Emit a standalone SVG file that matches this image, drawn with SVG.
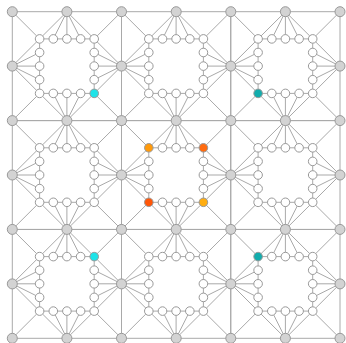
<svg xmlns="http://www.w3.org/2000/svg" xmlns:xlink="http://www.w3.org/1999/xlink" width="346" height="343" viewBox="0 0 346 343">
<style>
.e line{stroke:#a9a9a9;stroke-width:1}
.s{fill:#fff;stroke:#999;stroke-width:1}
.b{fill:#d3d3d3;stroke:#999;stroke-width:1}
.cy{fill:#1ee3e8}
.te{fill:#12adad}
.o1{fill:#ff9a0c}
.o2{fill:#ff6c10}
.o3{fill:#ff5608}
.o4{fill:#ffad10}
</style>
<defs>
<g id="blk" class="e">
<line x1="0" y1="0" x2="109.2" y2="0"/>
<line x1="109.2" y1="0" x2="109.2" y2="108.9"/>
<line x1="109.2" y1="108.9" x2="0" y2="108.9"/>
<line x1="0" y1="108.9" x2="0" y2="0"/>
<line x1="0" y1="0" x2="27.3" y2="27.2"/>
<line x1="109.2" y1="0" x2="81.9" y2="27.2"/>
<line x1="0" y1="108.9" x2="27.3" y2="81.7"/>
<line x1="109.2" y1="108.9" x2="81.9" y2="81.7"/>
<line x1="54.6" y1="0" x2="27.3" y2="27.2"/>
<line x1="54.6" y1="0" x2="41" y2="27.2"/>
<line x1="54.6" y1="0" x2="54.6" y2="27.2"/>
<line x1="54.6" y1="0" x2="68.3" y2="27.2"/>
<line x1="54.6" y1="0" x2="81.9" y2="27.2"/>
<line x1="54.6" y1="108.9" x2="27.3" y2="81.7"/>
<line x1="54.6" y1="108.9" x2="41" y2="81.7"/>
<line x1="54.6" y1="108.9" x2="54.6" y2="81.7"/>
<line x1="54.6" y1="108.9" x2="68.3" y2="81.7"/>
<line x1="54.6" y1="108.9" x2="81.9" y2="81.7"/>
<line x1="0" y1="54.4" x2="27.3" y2="27.2"/>
<line x1="0" y1="54.4" x2="27.3" y2="40.8"/>
<line x1="0" y1="54.4" x2="27.3" y2="54.4"/>
<line x1="0" y1="54.4" x2="27.3" y2="68"/>
<line x1="0" y1="54.4" x2="27.3" y2="81.7"/>
<line x1="109.2" y1="54.4" x2="81.9" y2="27.2"/>
<line x1="109.2" y1="54.4" x2="81.9" y2="40.8"/>
<line x1="109.2" y1="54.4" x2="81.9" y2="54.4"/>
<line x1="109.2" y1="54.4" x2="81.9" y2="68"/>
<line x1="109.2" y1="54.4" x2="81.9" y2="81.7"/>
<line x1="27.3" y1="27.2" x2="81.9" y2="27.2"/>
<line x1="81.9" y1="27.2" x2="81.9" y2="81.7"/>
<line x1="81.9" y1="81.7" x2="27.3" y2="81.7"/>
<line x1="27.3" y1="81.7" x2="27.3" y2="27.2"/>
</g>
</defs>
<g id="connectors">
<use xlink:href="#blk" transform="translate(12.3 11.7)"/>
<use xlink:href="#blk" transform="translate(121.5 11.7)"/>
<use xlink:href="#blk" transform="translate(230.8 11.7)"/>
<use xlink:href="#blk" transform="translate(12.3 120.6)"/>
<use xlink:href="#blk" transform="translate(121.5 120.6)"/>
<use xlink:href="#blk" transform="translate(230.8 120.6)"/>
<use xlink:href="#blk" transform="translate(12.3 229.4)"/>
<use xlink:href="#blk" transform="translate(121.5 229.4)"/>
<use xlink:href="#blk" transform="translate(230.8 229.4)"/>
</g>
<g id="hubs">
<g id="h00"><circle class="b" cx="12.3" cy="11.7" r="5"/></g>
<g id="h10"><circle class="b" cx="66.9" cy="11.7" r="5"/></g>
<g id="h20"><circle class="b" cx="121.5" cy="11.7" r="5"/></g>
<g id="h30"><circle class="b" cx="176.2" cy="11.7" r="5"/></g>
<g id="h40"><circle class="b" cx="230.8" cy="11.7" r="5"/></g>
<g id="h50"><circle class="b" cx="285.4" cy="11.7" r="5"/></g>
<g id="h60"><circle class="b" cx="340" cy="11.7" r="5"/></g>
<g id="h01"><circle class="b" cx="12.3" cy="66.1" r="5"/></g>
<g id="h21"><circle class="b" cx="121.5" cy="66.1" r="5"/></g>
<g id="h41"><circle class="b" cx="230.8" cy="66.1" r="5"/></g>
<g id="h61"><circle class="b" cx="340" cy="66.1" r="5"/></g>
<g id="h02"><circle class="b" cx="12.3" cy="120.6" r="5"/></g>
<g id="h12"><circle class="b" cx="66.9" cy="120.6" r="5"/></g>
<g id="h22"><circle class="b" cx="121.5" cy="120.6" r="5"/></g>
<g id="h32"><circle class="b" cx="176.2" cy="120.6" r="5"/></g>
<g id="h42"><circle class="b" cx="230.8" cy="120.6" r="5"/></g>
<g id="h52"><circle class="b" cx="285.4" cy="120.6" r="5"/></g>
<g id="h62"><circle class="b" cx="340" cy="120.6" r="5"/></g>
<g id="h03"><circle class="b" cx="12.3" cy="175" r="5"/></g>
<g id="h23"><circle class="b" cx="121.5" cy="175" r="5"/></g>
<g id="h43"><circle class="b" cx="230.8" cy="175" r="5"/></g>
<g id="h63"><circle class="b" cx="340" cy="175" r="5"/></g>
<g id="h04"><circle class="b" cx="12.3" cy="229.4" r="5"/></g>
<g id="h14"><circle class="b" cx="66.9" cy="229.4" r="5"/></g>
<g id="h24"><circle class="b" cx="121.5" cy="229.4" r="5"/></g>
<g id="h34"><circle class="b" cx="176.2" cy="229.4" r="5"/></g>
<g id="h44"><circle class="b" cx="230.8" cy="229.4" r="5"/></g>
<g id="h54"><circle class="b" cx="285.4" cy="229.4" r="5"/></g>
<g id="h64"><circle class="b" cx="340" cy="229.4" r="5"/></g>
<g id="h05"><circle class="b" cx="12.3" cy="283.9" r="5"/></g>
<g id="h25"><circle class="b" cx="121.5" cy="283.9" r="5"/></g>
<g id="h45"><circle class="b" cx="230.8" cy="283.9" r="5"/></g>
<g id="h65"><circle class="b" cx="340" cy="283.9" r="5"/></g>
<g id="h06"><circle class="b" cx="12.3" cy="338.3" r="5"/></g>
<g id="h16"><circle class="b" cx="66.9" cy="338.3" r="5"/></g>
<g id="h26"><circle class="b" cx="121.5" cy="338.3" r="5"/></g>
<g id="h36"><circle class="b" cx="176.2" cy="338.3" r="5"/></g>
<g id="h46"><circle class="b" cx="230.8" cy="338.3" r="5"/></g>
<g id="h56"><circle class="b" cx="285.4" cy="338.3" r="5"/></g>
<g id="h66"><circle class="b" cx="340" cy="338.3" r="5"/></g>
</g>
<g id="ring00" transform="translate(12.3 11.7)">
<g id="r00-1"><circle class="s" cx="27.3" cy="27.2" r="4.3"/></g>
<g id="r00-2"><circle class="s" cx="41" cy="27.2" r="4.3"/></g>
<g id="r00-3"><circle class="s" cx="54.6" cy="27.2" r="4.3"/></g>
<g id="r00-4"><circle class="s" cx="68.3" cy="27.2" r="4.3"/></g>
<g id="r00-5"><circle class="s" cx="81.9" cy="27.2" r="4.3"/></g>
<g id="r00-6"><circle class="s" cx="81.9" cy="40.8" r="4.3"/></g>
<g id="r00-7"><circle class="s" cx="81.9" cy="54.4" r="4.3"/></g>
<g id="r00-8"><circle class="s" cx="81.9" cy="68" r="4.3"/></g>
<g id="r00-9"><circle class="s cy" cx="81.9" cy="81.7" r="4.3"/></g>
<g id="r00-10"><circle class="s" cx="68.3" cy="81.7" r="4.3"/></g>
<g id="r00-11"><circle class="s" cx="54.6" cy="81.7" r="4.3"/></g>
<g id="r00-12"><circle class="s" cx="41" cy="81.7" r="4.3"/></g>
<g id="r00-13"><circle class="s" cx="27.3" cy="81.7" r="4.3"/></g>
<g id="r00-14"><circle class="s" cx="27.3" cy="68" r="4.3"/></g>
<g id="r00-15"><circle class="s" cx="27.3" cy="54.4" r="4.3"/></g>
<g id="r00-16"><circle class="s" cx="27.3" cy="40.8" r="4.3"/></g>
</g>
<g id="ring10" transform="translate(121.5 11.7)">
<g id="r10-1"><circle class="s" cx="27.3" cy="27.2" r="4.3"/></g>
<g id="r10-2"><circle class="s" cx="41" cy="27.2" r="4.3"/></g>
<g id="r10-3"><circle class="s" cx="54.6" cy="27.2" r="4.3"/></g>
<g id="r10-4"><circle class="s" cx="68.3" cy="27.2" r="4.3"/></g>
<g id="r10-5"><circle class="s" cx="81.9" cy="27.2" r="4.3"/></g>
<g id="r10-6"><circle class="s" cx="81.9" cy="40.8" r="4.3"/></g>
<g id="r10-7"><circle class="s" cx="81.9" cy="54.4" r="4.3"/></g>
<g id="r10-8"><circle class="s" cx="81.9" cy="68" r="4.3"/></g>
<g id="r10-9"><circle class="s" cx="81.9" cy="81.7" r="4.3"/></g>
<g id="r10-10"><circle class="s" cx="68.3" cy="81.7" r="4.3"/></g>
<g id="r10-11"><circle class="s" cx="54.6" cy="81.7" r="4.3"/></g>
<g id="r10-12"><circle class="s" cx="41" cy="81.7" r="4.3"/></g>
<g id="r10-13"><circle class="s" cx="27.3" cy="81.7" r="4.3"/></g>
<g id="r10-14"><circle class="s" cx="27.3" cy="68" r="4.3"/></g>
<g id="r10-15"><circle class="s" cx="27.3" cy="54.4" r="4.3"/></g>
<g id="r10-16"><circle class="s" cx="27.3" cy="40.8" r="4.3"/></g>
</g>
<g id="ring20" transform="translate(230.8 11.7)">
<g id="r20-1"><circle class="s" cx="27.3" cy="27.2" r="4.3"/></g>
<g id="r20-2"><circle class="s" cx="41" cy="27.2" r="4.3"/></g>
<g id="r20-3"><circle class="s" cx="54.6" cy="27.2" r="4.3"/></g>
<g id="r20-4"><circle class="s" cx="68.3" cy="27.2" r="4.3"/></g>
<g id="r20-5"><circle class="s" cx="81.9" cy="27.2" r="4.3"/></g>
<g id="r20-6"><circle class="s" cx="81.9" cy="40.8" r="4.3"/></g>
<g id="r20-7"><circle class="s" cx="81.9" cy="54.4" r="4.3"/></g>
<g id="r20-8"><circle class="s" cx="81.9" cy="68" r="4.3"/></g>
<g id="r20-9"><circle class="s" cx="81.9" cy="81.7" r="4.3"/></g>
<g id="r20-10"><circle class="s" cx="68.3" cy="81.7" r="4.3"/></g>
<g id="r20-11"><circle class="s" cx="54.6" cy="81.7" r="4.3"/></g>
<g id="r20-12"><circle class="s" cx="41" cy="81.7" r="4.3"/></g>
<g id="r20-13"><circle class="s te" cx="27.3" cy="81.7" r="4.3"/></g>
<g id="r20-14"><circle class="s" cx="27.3" cy="68" r="4.3"/></g>
<g id="r20-15"><circle class="s" cx="27.3" cy="54.4" r="4.3"/></g>
<g id="r20-16"><circle class="s" cx="27.3" cy="40.8" r="4.3"/></g>
</g>
<g id="ring01" transform="translate(12.3 120.6)">
<g id="r01-1"><circle class="s" cx="27.3" cy="27.2" r="4.3"/></g>
<g id="r01-2"><circle class="s" cx="41" cy="27.2" r="4.3"/></g>
<g id="r01-3"><circle class="s" cx="54.6" cy="27.2" r="4.3"/></g>
<g id="r01-4"><circle class="s" cx="68.3" cy="27.2" r="4.3"/></g>
<g id="r01-5"><circle class="s" cx="81.9" cy="27.2" r="4.3"/></g>
<g id="r01-6"><circle class="s" cx="81.9" cy="40.8" r="4.3"/></g>
<g id="r01-7"><circle class="s" cx="81.9" cy="54.4" r="4.3"/></g>
<g id="r01-8"><circle class="s" cx="81.9" cy="68" r="4.3"/></g>
<g id="r01-9"><circle class="s" cx="81.9" cy="81.7" r="4.3"/></g>
<g id="r01-10"><circle class="s" cx="68.3" cy="81.7" r="4.3"/></g>
<g id="r01-11"><circle class="s" cx="54.6" cy="81.7" r="4.3"/></g>
<g id="r01-12"><circle class="s" cx="41" cy="81.7" r="4.3"/></g>
<g id="r01-13"><circle class="s" cx="27.3" cy="81.7" r="4.3"/></g>
<g id="r01-14"><circle class="s" cx="27.3" cy="68" r="4.3"/></g>
<g id="r01-15"><circle class="s" cx="27.3" cy="54.4" r="4.3"/></g>
<g id="r01-16"><circle class="s" cx="27.3" cy="40.8" r="4.3"/></g>
</g>
<g id="ring11" transform="translate(121.5 120.6)">
<g id="r11-1"><circle class="s o1" cx="27.3" cy="27.2" r="4.3"/></g>
<g id="r11-2"><circle class="s" cx="41" cy="27.2" r="4.3"/></g>
<g id="r11-3"><circle class="s" cx="54.6" cy="27.2" r="4.3"/></g>
<g id="r11-4"><circle class="s" cx="68.3" cy="27.2" r="4.3"/></g>
<g id="r11-5"><circle class="s o2" cx="81.9" cy="27.2" r="4.3"/></g>
<g id="r11-6"><circle class="s" cx="81.9" cy="40.8" r="4.3"/></g>
<g id="r11-7"><circle class="s" cx="81.9" cy="54.4" r="4.3"/></g>
<g id="r11-8"><circle class="s" cx="81.9" cy="68" r="4.3"/></g>
<g id="r11-9"><circle class="s o4" cx="81.9" cy="81.7" r="4.3"/></g>
<g id="r11-10"><circle class="s" cx="68.3" cy="81.7" r="4.3"/></g>
<g id="r11-11"><circle class="s" cx="54.6" cy="81.7" r="4.3"/></g>
<g id="r11-12"><circle class="s" cx="41" cy="81.7" r="4.3"/></g>
<g id="r11-13"><circle class="s o3" cx="27.3" cy="81.7" r="4.3"/></g>
<g id="r11-14"><circle class="s" cx="27.3" cy="68" r="4.3"/></g>
<g id="r11-15"><circle class="s" cx="27.3" cy="54.4" r="4.3"/></g>
<g id="r11-16"><circle class="s" cx="27.3" cy="40.8" r="4.3"/></g>
</g>
<g id="ring21" transform="translate(230.8 120.6)">
<g id="r21-1"><circle class="s" cx="27.3" cy="27.2" r="4.3"/></g>
<g id="r21-2"><circle class="s" cx="41" cy="27.2" r="4.3"/></g>
<g id="r21-3"><circle class="s" cx="54.6" cy="27.2" r="4.3"/></g>
<g id="r21-4"><circle class="s" cx="68.3" cy="27.2" r="4.3"/></g>
<g id="r21-5"><circle class="s" cx="81.9" cy="27.2" r="4.3"/></g>
<g id="r21-6"><circle class="s" cx="81.9" cy="40.8" r="4.3"/></g>
<g id="r21-7"><circle class="s" cx="81.9" cy="54.4" r="4.3"/></g>
<g id="r21-8"><circle class="s" cx="81.9" cy="68" r="4.3"/></g>
<g id="r21-9"><circle class="s" cx="81.9" cy="81.7" r="4.3"/></g>
<g id="r21-10"><circle class="s" cx="68.3" cy="81.7" r="4.3"/></g>
<g id="r21-11"><circle class="s" cx="54.6" cy="81.7" r="4.3"/></g>
<g id="r21-12"><circle class="s" cx="41" cy="81.7" r="4.3"/></g>
<g id="r21-13"><circle class="s" cx="27.3" cy="81.7" r="4.3"/></g>
<g id="r21-14"><circle class="s" cx="27.3" cy="68" r="4.3"/></g>
<g id="r21-15"><circle class="s" cx="27.3" cy="54.4" r="4.3"/></g>
<g id="r21-16"><circle class="s" cx="27.3" cy="40.8" r="4.3"/></g>
</g>
<g id="ring02" transform="translate(12.3 229.4)">
<g id="r02-1"><circle class="s" cx="27.3" cy="27.2" r="4.3"/></g>
<g id="r02-2"><circle class="s" cx="41" cy="27.2" r="4.3"/></g>
<g id="r02-3"><circle class="s" cx="54.6" cy="27.2" r="4.3"/></g>
<g id="r02-4"><circle class="s" cx="68.3" cy="27.2" r="4.3"/></g>
<g id="r02-5"><circle class="s cy" cx="81.9" cy="27.2" r="4.3"/></g>
<g id="r02-6"><circle class="s" cx="81.9" cy="40.8" r="4.3"/></g>
<g id="r02-7"><circle class="s" cx="81.9" cy="54.4" r="4.3"/></g>
<g id="r02-8"><circle class="s" cx="81.9" cy="68" r="4.3"/></g>
<g id="r02-9"><circle class="s" cx="81.9" cy="81.7" r="4.3"/></g>
<g id="r02-10"><circle class="s" cx="68.3" cy="81.7" r="4.3"/></g>
<g id="r02-11"><circle class="s" cx="54.6" cy="81.7" r="4.3"/></g>
<g id="r02-12"><circle class="s" cx="41" cy="81.7" r="4.3"/></g>
<g id="r02-13"><circle class="s" cx="27.3" cy="81.7" r="4.3"/></g>
<g id="r02-14"><circle class="s" cx="27.3" cy="68" r="4.3"/></g>
<g id="r02-15"><circle class="s" cx="27.3" cy="54.4" r="4.3"/></g>
<g id="r02-16"><circle class="s" cx="27.3" cy="40.8" r="4.3"/></g>
</g>
<g id="ring12" transform="translate(121.5 229.4)">
<g id="r12-1"><circle class="s" cx="27.3" cy="27.2" r="4.3"/></g>
<g id="r12-2"><circle class="s" cx="41" cy="27.2" r="4.3"/></g>
<g id="r12-3"><circle class="s" cx="54.6" cy="27.2" r="4.3"/></g>
<g id="r12-4"><circle class="s" cx="68.3" cy="27.2" r="4.3"/></g>
<g id="r12-5"><circle class="s" cx="81.9" cy="27.2" r="4.3"/></g>
<g id="r12-6"><circle class="s" cx="81.9" cy="40.8" r="4.3"/></g>
<g id="r12-7"><circle class="s" cx="81.9" cy="54.4" r="4.3"/></g>
<g id="r12-8"><circle class="s" cx="81.9" cy="68" r="4.3"/></g>
<g id="r12-9"><circle class="s" cx="81.9" cy="81.7" r="4.3"/></g>
<g id="r12-10"><circle class="s" cx="68.3" cy="81.7" r="4.3"/></g>
<g id="r12-11"><circle class="s" cx="54.6" cy="81.7" r="4.3"/></g>
<g id="r12-12"><circle class="s" cx="41" cy="81.7" r="4.3"/></g>
<g id="r12-13"><circle class="s" cx="27.3" cy="81.7" r="4.3"/></g>
<g id="r12-14"><circle class="s" cx="27.3" cy="68" r="4.3"/></g>
<g id="r12-15"><circle class="s" cx="27.3" cy="54.4" r="4.3"/></g>
<g id="r12-16"><circle class="s" cx="27.3" cy="40.8" r="4.3"/></g>
</g>
<g id="ring22" transform="translate(230.8 229.4)">
<g id="r22-1"><circle class="s te" cx="27.3" cy="27.2" r="4.3"/></g>
<g id="r22-2"><circle class="s" cx="41" cy="27.2" r="4.3"/></g>
<g id="r22-3"><circle class="s" cx="54.6" cy="27.2" r="4.3"/></g>
<g id="r22-4"><circle class="s" cx="68.3" cy="27.2" r="4.3"/></g>
<g id="r22-5"><circle class="s" cx="81.9" cy="27.2" r="4.3"/></g>
<g id="r22-6"><circle class="s" cx="81.9" cy="40.8" r="4.3"/></g>
<g id="r22-7"><circle class="s" cx="81.9" cy="54.4" r="4.3"/></g>
<g id="r22-8"><circle class="s" cx="81.9" cy="68" r="4.3"/></g>
<g id="r22-9"><circle class="s" cx="81.9" cy="81.7" r="4.3"/></g>
<g id="r22-10"><circle class="s" cx="68.3" cy="81.7" r="4.3"/></g>
<g id="r22-11"><circle class="s" cx="54.6" cy="81.7" r="4.3"/></g>
<g id="r22-12"><circle class="s" cx="41" cy="81.7" r="4.3"/></g>
<g id="r22-13"><circle class="s" cx="27.3" cy="81.7" r="4.3"/></g>
<g id="r22-14"><circle class="s" cx="27.3" cy="68" r="4.3"/></g>
<g id="r22-15"><circle class="s" cx="27.3" cy="54.4" r="4.3"/></g>
<g id="r22-16"><circle class="s" cx="27.3" cy="40.8" r="4.3"/></g>
</g>
</svg>
